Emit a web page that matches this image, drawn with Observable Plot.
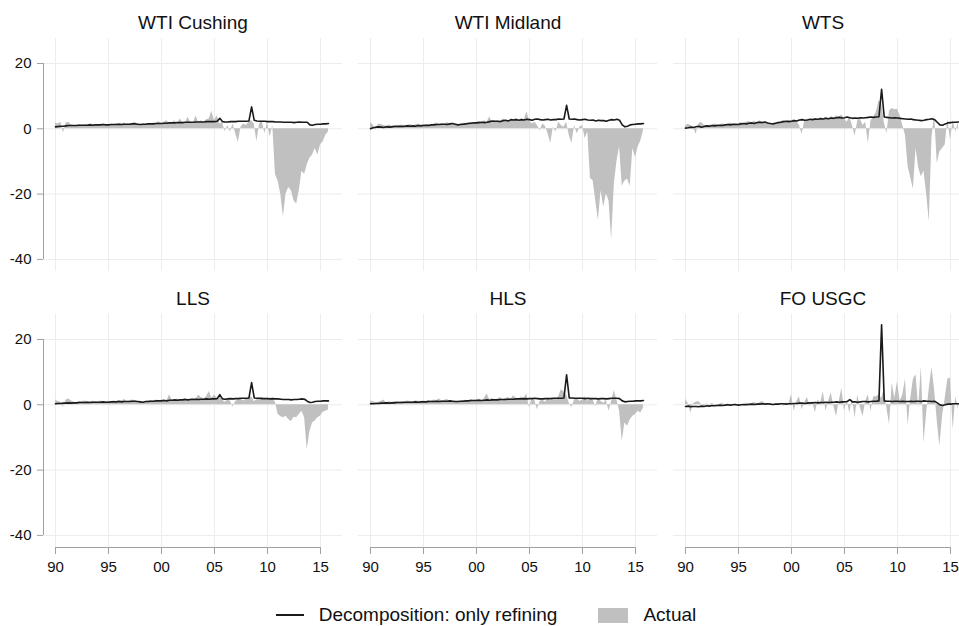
<!DOCTYPE html>
<html><head><meta charset="utf-8">
<script src="https://cdn.jsdelivr.net/npm/d3@7"></script>
<script src="https://cdn.jsdelivr.net/npm/@observablehq/plot@0.6"></script>
<style>
html,body{margin:0;padding:0;background:#fff;overflow:hidden;}
#chart{width:972px;}
.legend{width:972px;height:38px;display:flex;align-items:center;justify-content:center;font-family:"Liberation Sans",Arial,sans-serif;font-size:19px;color:#111;}
.legend .ln{display:inline-block;width:28px;height:2px;background:#1a1a1a;margin-right:15px;}
.legend .sq{display:inline-block;width:30px;height:15px;background:#c0c0c0;margin-left:41px;margin-right:15px;}
</style></head><body>
<div id="chart"></div>
<script>
const panelNames = ["WTI Cushing", "WTI Midland", "WTS", "LLS", "HLS", "FO USGC"];
const panelCols = [0, 1, 2, 0, 1, 2];
const panelRows = [0, 0, 0, 1, 1, 1];
const xTicks = [1990, 1995, 2000, 2005, 2010, 2015];
const yTicks = [-40, -20, 0, 20];
const seriesLabels = ["Decomposition: only refining", "Actual"];
// quarterly time grid 1990Q1 .. 2015Q4
const quarters = d3.range(104).map(i => 1990 + i / 4);

const actualWTICushing = [
 1.8, 1.5, 2.0, -1.3,  1.8, 2.0, 1.2, 1.0,  1.0, 1.3, 1.0, 1.2,  1.2, 1.5, 1.4, 1.0,
 1.1, 1.3, 1.5, 1.2,  1.2, 1.4, 1.3, 1.5,  1.6, 1.4, 1.8, 1.3,  1.5, 1.6, 2.0, 1.4,
 1.2, 1.5, 1.4, 1.6,  1.4, 1.8, 1.6, 2.2,  1.5, 2.0, 2.5, 1.6,  1.8, 2.5, 1.2, 3.0,
 2.0, 1.5, 3.5, 2.0,  1.5, 3.9, 2.0, 2.5,  2.0, 2.8, 3.0, 5.4,  2.5, 4.0, 1.5, 2.0,
 -0.8, 1.0, -1.0, 1.5,  -1.5, -4.2, 0.5, 1.5,  1.0, 2.0, 2.5, 1.5,  -4.0, 1.5, 2.5, -1.5,
 2.0, -2.5, 1.0, -14.0,  -16.0, -20.0, -27.0, -20.0,  -18.0, -19.0, -22.0, -23.0,
 -19.0, -13.0, -14.0, -11.0,  -9.0, -8.0, -6.0, -8.0,  -5.0, -4.0, -2.0, -1.0
];
const refiningWTICushing = [
 0.6, 0.7, 0.8, 0.8,  0.9, 1.0, 1.0, 1.0,  1.0, 1.1, 1.1, 1.1,  1.1, 1.2, 1.1, 1.2,
 1.2, 1.2, 1.3, 1.2,  1.2, 1.3, 1.3, 1.3,  1.4, 1.3, 1.4, 1.4,  1.4, 1.5, 1.5, 1.4,
 1.3, 1.4, 1.4, 1.5,  1.5, 1.5, 1.6, 1.6,  1.6, 1.7, 1.7, 1.8,  1.8, 1.8, 1.9, 1.9,
 1.9, 2.0, 2.0, 2.0,  2.0, 2.1, 2.1, 2.1,  2.1, 2.2, 2.2, 2.2,  2.2, 2.3, 3.2, 2.2,
 2.1, 2.1, 2.2, 2.2,  2.2, 2.3, 2.3, 2.3,  2.3, 2.4, 6.7, 2.6,  2.4, 2.3, 2.3, 2.3,
 2.2, 2.2, 2.2, 2.1,  2.1, 2.1, 2.0, 2.0,  2.0, 2.0, 1.9, 2.0,  2.1, 2.0, 2.0, 2.0,
 1.2, 1.1, 1.3, 1.4,  1.4, 1.5, 1.5, 1.6
];

const actualWTIMidland = [
 1.9, 1.2, -0.5, 1.5,  1.3, 1.0, 0.8, 1.2,  0.8, 1.0, 1.1, 0.9,  1.2, 1.0, 1.1, 1.3,
 1.0, 1.2, 1.5, 1.1,  1.3, 1.1, 1.4, 1.2,  1.5, 1.8, 1.3, 1.6,  1.4, 1.9, 1.5, 1.2,
 1.3, 1.1, 1.5, 1.7,  1.6, 1.8, 2.0, 1.5,  1.9, 2.2, 1.8, 2.5,  2.0, 3.7, 1.8, 2.2,
 2.5, 2.0, 3.0, 2.4,  2.2, 2.8, 2.5, 3.2,  2.0, 3.0, 2.6, 5.2,  2.5, 1.5, 2.0, 1.0,
 -0.5, 1.5, 0.8, -1.5,  -4.5, 0.5, -1.0, 2.0,  1.0, 0.5, 2.0, -2.0,  -4.5, 1.0, -1.5, 0.5,
 1.0, -3.0, -1.0, -15.2,  -15.8, -22.0, -28.0, -19.0,  -24.0, -20.0, -22.0, -34.0,
 -17.0, -10.0, -5.5, -17.6,  -16.0, -15.4, -17.6, -6.0,  -8.9, -5.6, -3.7, -0.7
];
const refiningWTIMidland = [
 0.0, 0.3, 0.5, 0.6,  0.5, 0.4, 0.6, 0.5,  0.6, 0.7, 0.7, 0.8,  0.7, 0.8, 0.9, 0.8,
 0.9, 0.8, 1.0, 0.9,  1.0, 1.1, 1.0, 1.2,  1.2, 1.3, 1.3, 1.4,  1.4, 1.3, 1.5, 1.6,
 1.4, 1.2, 1.3, 1.4,  1.5, 1.6, 1.7, 1.8,  1.8, 1.9, 2.0, 1.9,  2.0, 2.2, 2.4, 2.3,
 2.3, 2.2, 2.5, 2.6,  2.4, 2.8, 2.7, 2.8,  2.6, 2.8, 2.7, 2.9,  2.8, 2.6, 2.9, 3.0,
 2.8, 2.7, 2.8, 2.9,  2.7, 2.8, 2.8, 3.0,  2.9, 3.0, 7.2, 3.0,  2.9, 3.0, 2.8, 2.7,
 2.8, 2.9, 2.7, 2.6,  2.7, 2.4, 2.6, 2.5,  2.5, 2.3, 2.6, 2.8,  2.7, 2.9, 2.6, 1.2,
 0.6, 0.8, 1.2, 1.3,  1.4, 1.5, 1.5, 1.6
];

const actualWTS = [
 0.8, 1.5, 1.0, 0.5,  -1.7, 1.5, 2.0, 1.2,  0.8, 1.2, 1.0, 1.5,  1.3, 1.0, 1.6, 1.2,
 1.4, 1.8, 1.3, 1.6,  1.5, 1.9, 1.4, 2.0,  2.2, 1.8, 2.4, 1.6,  2.5, 2.0, 1.8, 1.5,
 1.4, 1.2, 1.6, 2.0,  2.2, 2.5, 2.0, 2.6,  2.4, 2.8, 2.2, 1.0,  -1.7, 2.5, 3.0, 2.4,
 2.8, 3.2, 2.5, 3.5,  3.0, 3.6, 2.8, 3.8,  3.2, 4.0, 3.5, 4.2,  3.0, 2.0, 3.5, 1.0,
 -2.3, 2.5, 3.0, 1.0,  2.0, -4.5, 2.5, 3.5,  5.0, 8.5, 8.0, 2.0,  -1.5, 5.5, 6.2, 5.8,
 6.0, 4.0, 1.0, -2.0,  -11.6, -15.0, -18.5, -6.0,  -12.0, -14.7, -13.0, -20.0,
 -28.5, -3.0, 4.5, -10.6,  -7.0, -6.0, -5.0, 3.0,  -3.5, 2.5, -1.0, 2.0
];
const refiningWTS = [
 0.2, 0.3, 0.5, 0.4,  0.6, 0.8, 0.5, 0.7,  0.9, 0.8, 1.0, 0.9,  1.0, 1.1, 1.0, 1.2,
 1.3, 1.2, 1.4, 1.3,  1.3, 1.5, 1.6, 1.5,  1.7, 1.8, 1.6, 1.9,  2.0, 1.9, 2.1, 1.8,
 1.6, 1.5, 1.7, 1.9,  2.0, 2.2, 2.3, 2.2,  2.3, 2.5, 2.4, 2.7,  2.8, 2.6, 2.7, 2.9,
 2.8, 3.0, 2.9, 3.1,  3.0, 3.2, 3.1, 3.3,  3.2, 3.4, 3.5, 3.3,  3.4, 3.6, 3.4, 3.2,
 3.3, 3.2, 3.4, 3.3,  3.4, 3.5, 3.6, 3.5,  3.6, 3.7, 12.1, 3.6,  3.5, 3.4, 3.3, 3.4,
 3.3, 3.2, 3.1, 3.0,  2.9, 3.0, 2.8, 2.7,  2.6, 2.5, 2.6, 2.8,  2.9, 3.1, 2.8, 2.0,
 1.2, 1.1, 1.5, 1.8,  1.9, 2.0, 2.0, 2.1
];

const actualLLS = [
 1.5, 1.0, 0.8, -0.7,  1.5, 1.8, 1.2, 0.8,  0.6, 1.0, 0.9, 1.2,  1.0, 0.8, 1.1, 0.9,
 0.8, 1.2, 1.0, 0.9,  1.1, 0.9, 1.2, 1.0,  1.4, 1.2, 1.6, 1.0,  1.2, 1.5, 1.3, 0.9,
 0.8, 0.6, 1.0, 1.2,  1.3, 1.1, 1.5, 1.2,  1.4, 1.6, 1.0, 3.1,  1.5, 1.2, 1.8, 1.3,
 1.6, 2.0, 1.4, 1.8,  2.0, 1.6, 3.0, 2.2,  1.8, 2.5, 4.1, 2.0,  3.0, 2.0, 2.5, 1.5,
 0.8, 1.5, 1.2, -0.7,  1.0, 1.5, 1.8, 1.2,  1.8, 2.2, 2.5, 1.0,  1.5, 2.0, 2.2, 1.8,
 2.0, 1.5, 1.8, 0.8,  -3.0, -3.6, -4.0, -3.5,  -4.5, -5.1, -3.8, -4.0,
 -3.0, -2.0, -4.0, -13.8,  -8.2, -5.6, -5.0, -4.0,  -3.5, -2.3, -2.0, -1.6
];
const refiningLLS = [
 0.3, 0.4, 0.4, 0.5,  0.5, 0.6, 0.5, 0.6,  0.6, 0.7, 0.7, 0.7,  0.8, 0.7, 0.8, 0.8,
 0.8, 0.8, 0.9, 0.8,  0.8, 0.9, 0.9, 0.9,  1.0, 0.9, 1.0, 1.0,  1.0, 1.1, 1.1, 1.0,
 0.9, 0.8, 1.0, 1.0,  1.1, 1.1, 1.2, 1.2,  1.2, 1.3, 1.2, 1.4,  1.4, 1.5, 1.4, 1.5,
 1.5, 1.6, 1.5, 1.6,  1.6, 1.7, 1.6, 1.7,  1.7, 1.8, 1.7, 1.8,  1.8, 1.9, 3.1, 1.8,
 1.7, 1.8, 1.9, 1.8,  1.9, 1.9, 2.0, 2.0,  2.0, 2.1, 6.8, 2.1,  2.0, 2.0, 1.9, 1.9,
 1.9, 1.8, 1.9, 1.8,  1.8, 1.7, 1.6, 1.6,  1.6, 1.5, 1.6, 1.6,  1.7, 1.8, 1.7, 1.1,
 0.7, 0.8, 1.0, 1.1,  1.1, 1.2, 1.2, 1.2
];

const actualHLS = [
 1.2, 0.9, 0.6, 0.8,  1.0, 1.5, 0.6, 0.9,  0.7, 0.9, 1.0, 0.8,  1.0, 0.9, 1.2, 1.0,
 0.9, 1.2, 1.1, 1.0,  1.2, 1.0, 1.4, 1.1,  1.5, 1.3, 1.8, 1.2,  1.4, 1.6, 1.2, 1.0,
 0.9, 0.8, 1.1, 1.3,  1.4, 1.2, 1.6, 1.3,  1.5, 1.8, 1.2, 1.9,  3.4, 1.5, 2.0, 1.4,
 1.7, 2.2, 1.5, 1.9,  2.2, 1.7, 2.8, 2.0,  1.8, 2.4, 2.0, 3.4,  -1.0, 2.0, 1.5, -1.5,
 1.0, 1.5, 0.8, 1.8,  1.2, 2.0, 1.5, 2.5,  4.6, 4.0, 3.0, 0.5,  -0.8, 1.5, 2.0, 1.0,
 1.5, 2.5, 1.0, 2.0,  1.5, -0.5, 2.0, 1.0,  0.5, 1.5, -2.0, 1.0,
 4.4, 1.5, -2.0, -11.2,  -5.6, -6.6, -4.6, -3.5,  -3.0, -2.0, -2.5, -1.0
];
const refiningHLS = [
 0.3, 0.3, 0.4, 0.4,  0.5, 0.5, 0.6, 0.5,  0.6, 0.6, 0.7, 0.7,  0.7, 0.8, 0.8, 0.8,
 0.8, 0.9, 0.8, 0.9,  0.9, 0.9, 1.0, 1.0,  1.0, 1.1, 1.0, 1.1,  1.1, 1.1, 1.2, 1.1,
 1.0, 1.0, 1.1, 1.1,  1.2, 1.2, 1.3, 1.3,  1.3, 1.4, 1.3, 1.4,  1.5, 1.4, 1.5, 1.5,
 1.5, 1.6, 1.6, 1.6,  1.7, 1.7, 1.7, 1.8,  1.8, 1.8, 1.9, 1.8,  1.9, 1.9, 2.0, 1.9,
 1.8, 1.8, 1.9, 1.9,  1.9, 2.0, 2.0, 2.0,  2.0, 2.1, 9.2, 2.1,  2.1, 2.0, 2.0, 2.0,
 2.0, 1.9, 2.0, 1.9,  1.9, 1.9, 1.8, 1.9,  1.9, 1.8, 1.9, 2.0,  2.0, 2.0, 1.9, 1.2,
 0.9, 1.0, 1.1, 1.1,  1.2, 1.2, 1.2, 1.3
];

const actualFOUSGC = [
 1.7, 0.5, -2.5, 0.3,  0.8, 1.0, 0.2, -0.5,  0.3, -0.2, 0.4, 0.0,  -0.3, 0.2, 0.5, -0.2,
 0.3, -0.4, 0.2, 0.4,  -0.3, 0.2, 0.0, 0.4,  0.5, 0.3, 0.8, 0.2,  0.6, 1.0, 0.4, 0.2,
 0.0, -0.3, 0.3, 0.1,  0.4, -0.5, 0.6, 0.2,  3.1, -2.0, 1.0, 2.5,  -1.5, 0.8, 2.2, -0.5,
 1.0, -2.5, 1.5, 0.5,  4.1, -2.0, 1.2, 3.6,  -0.5, -3.6, 1.0, 5.1,  -2.0, 1.5, -2.6, 2.0,
 -4.1, 3.0, -1.0, -3.6,  1.0, 3.1, -2.0, 2.5,  2.5, 3.0, 2.0, 4.6,  -1.0, -6.1, 6.7, 2.0,
 7.1, 1.0, 3.0, 7.8,  -6.3, 2.0, 7.8, 9.2,  -1.0, 11.7, -11.7, -2.5,
 5.0, 11.5, 4.6, -5.0,  -12.7, -3.6, 2.0, 7.8,  8.2, -7.6, 2.5, -1.5
];
const refiningFOUSGC = [
 -0.5, -0.4, -0.6, -0.5,  -0.5, -0.6, -0.4, -0.5,  -0.3, -0.4, -0.2, -0.3,  -0.2, -0.1, -0.2, -0.1,
 0.0, -0.1, 0.0, 0.0,  -0.1, 0.0, 0.1, 0.0,  0.1, 0.2, 0.1, 0.2,  0.2, 0.3, 0.2, 0.3,
 0.2, 0.1, 0.2, 0.2,  0.3, 0.3, 0.2, 0.3,  0.3, 0.4, 0.4, 0.5,  0.5, 0.4, 0.5, 0.6,
 0.6, 0.7, 0.6, 0.7,  0.7, 0.8, 0.7, 0.8,  0.8, 0.9, 0.8, 0.9,  0.9, 1.0, 1.6, 0.9,
 0.9, 0.8, 0.9, 1.0,  1.0, 0.9, 1.0, 1.1,  1.1, 1.2, 24.5, 1.2,  1.1, 1.1, 1.0, 1.1,
 1.1, 1.0, 1.1, 1.0,  1.0, 1.1, 1.0, 1.1,  1.1, 1.0, 1.2, 1.1,  1.1, 1.0, 1.1, 0.6,
 0.0, -0.2, 0.0, 0.2,  0.2, 0.3, 0.3, 0.3
];

const actualSeries = [actualWTICushing, actualWTIMidland, actualWTS, actualLLS, actualHLS, actualFOUSGC];
const refiningSeries = [refiningWTICushing, refiningWTIMidland, refiningWTS, refiningLLS, refiningHLS, refiningFOUSGC];

const panels = panelNames.map((name, k) => ({name, col: panelCols[k], row: panelRows[k]}));
const rows = [];
panels.forEach((p, k) => {
  quarters.forEach((t, i) => {
    rows.push({panel: p.name, col: p.col, row: p.row, t, actual: actualSeries[k][i], refining: refiningSeries[k][i]});
  });
});

const xDomain = [1988.868, 2017.076];
const yDomain = [-43.7, 27.65];
const axisGray = "#a0a0a0";
const gridGray = "#ececec";

const chart = Plot.plot({
  width: 972,
  height: 596,
  marginLeft: 43,
  marginRight: 0,
  marginTop: 37,
  marginBottom: 49,
  style: {fontFamily: "'Liberation Sans', Arial, sans-serif", fontSize: "15px", background: "#fff", color: "#111"},
  fx: {domain: [0, 1, 2], paddingInner: 16 / 315, paddingOuter: 0, axis: null},
  fy: {domain: [0, 1], paddingInner: 43 / 276, paddingOuter: 0, axis: null},
  x: {domain: xDomain, axis: null, label: null},
  y: {domain: yDomain, axis: null, label: null},
  marks: [
    Plot.gridX(xTicks, {stroke: gridGray, strokeOpacity: 1}),
    Plot.gridY(yTicks, {stroke: gridGray, strokeOpacity: 1}),
    Plot.areaY(rows, {fx: "col", fy: "row", x: "t", y: "actual", fill: "#c0c0c0"}),
    Plot.lineY(rows, {fx: "col", fy: "row", x: "t", y: "refining", stroke: "#1a1a1a", strokeWidth: 1.6}),
    Plot.ruleX([xDomain[0]], {y1: yTicks[0], y2: yTicks[yTicks.length - 1], stroke: axisGray, facetAnchor: "left"}),
    Plot.ruleY([yDomain[0]], {x1: xTicks[0], x2: xTicks[xTicks.length - 1], stroke: axisGray, facetAnchor: "bottom"}),
    Plot.axisY(yTicks, {anchor: "left", label: null, tickSize: 6, tickPadding: 6, tickFormat: d => String(d), fontSize: 15, stroke: axisGray, fill: "#111"}),
    Plot.axisX(xTicks, {anchor: "bottom", label: null, tickSize: 7, tickPadding: 7, tickFormat: d => String(d % 100).padStart(2, "0"), fontSize: 15, stroke: axisGray, fill: "#111"}),
    Plot.text(panels, {fx: "col", fy: "row", text: "name", frameAnchor: "top", lineAnchor: "middle", dy: -16, fontSize: 19, fill: "#111"})
  ]
});
document.getElementById("chart").appendChild(chart);

const legend = document.createElement("div");
legend.className = "legend";
legend.innerHTML = `<span class="ln"></span><span>${seriesLabels[0]}</span><span class="sq"></span><span>${seriesLabels[1]}</span>`;
document.getElementById("chart").appendChild(legend);
</script>
</body></html>
